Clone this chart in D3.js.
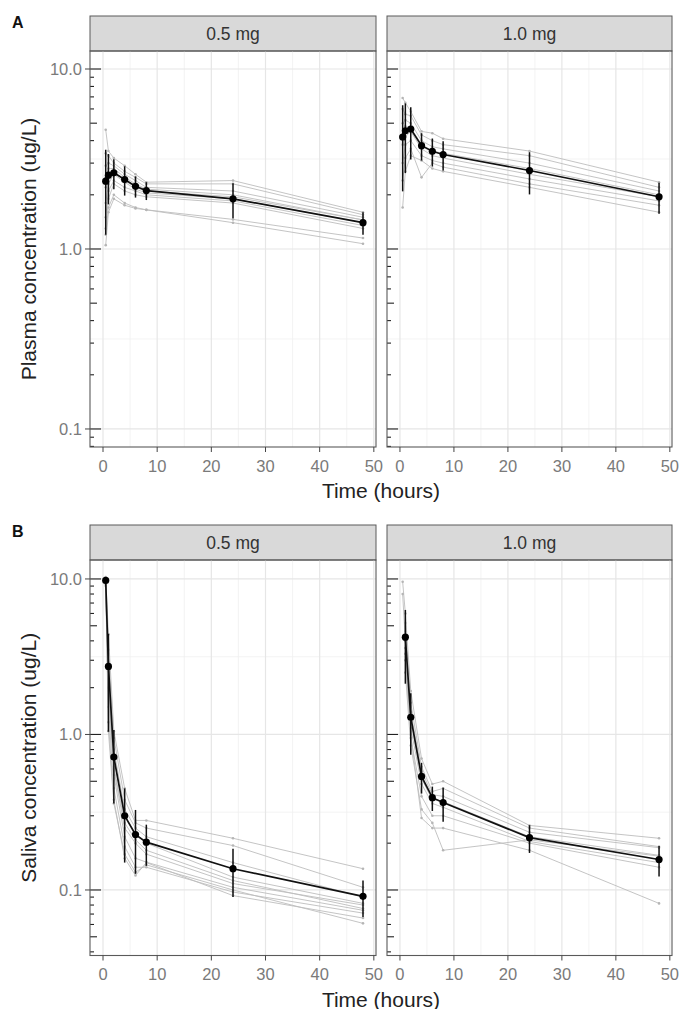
<!DOCTYPE html>
<html>
<head>
<meta charset="utf-8">
<script src="https://cdn.jsdelivr.net/npm/d3@7"></script>
<style>
body { margin: 0; background: #fff; }
svg { display: block; font-family: "Liberation Sans", Arial, sans-serif; }
</style>
</head>
<body>
<svg id="chart" width="681" height="1009"></svg>
<script>
var TIMES = [0.5, 1, 2, 4, 6, 8, 24, 48]
var DOSES = ["0.5 mg", "1.0 mg"]
var X_TICKS = [0, 10, 20, 30, 40, 50]
var X_MINOR = [5, 15, 25, 35, 45]
var Y_TICKS = [0.1, 1, 10]
var Y_TICK_LABELS = ["0.1", "1.0", "10.0"]
var X_LIMITS = [-2.4, 50.4]
var PLASMA_LIMITS = [0.0794, 12.59]
var SALIVA_LIMITS = [0.0379, 13.24]

// plasma, 0.5 mg
var plasma05_mean = [2.38, 2.57, 2.65, 2.43, 2.23, 2.11, 1.90, 1.40]
var plasma05_sd = [1.18, 0.8, 0.5, 0.45, 0.3, 0.24, 0.42, 0.2]
var plasma05_subjects = [
  [4.6, 3.5, 3.2, 2.9, 2.6, 2.35, 2.4, 1.6],
  [3.4, 3.3, 3.0, 2.7, 2.5, 2.3, 2.3, 1.55],
  [2.9, 3.0, 2.9, 2.6, 2.4, 2.2, 2.1, 1.5],
  [2.5, 2.8, 2.8, 2.5, 2.3, 2.15, 2.0, 1.45],
  [2.2, 2.5, 2.7, 2.4, 2.2, 2.1, 1.95, 1.45],
  [1.8, 2.3, 2.6, 2.35, 2.15, 2.05, 1.9, 1.4],
  [1.5, 2.1, 2.4, 2.2, 2.1, 2.0, 1.85, 1.35],
  [1.3, 1.9, 2.3, 2.1, 2.0, 1.95, 1.8, 1.3],
  [1.2, 1.7, 2.0, 1.8, 1.7, 1.65, 1.46, 1.15],
  [1.05, 1.6, 1.9, 1.75, 1.68, 1.65, 1.40, 1.07]
]

// plasma, 1.0 mg
var plasma10_mean = [4.19, 4.54, 4.64, 3.75, 3.49, 3.35, 2.73, 1.95]
var plasma10_sd = [2.1, 1.9, 1.5, 0.65, 0.62, 0.62, 0.72, 0.38]
var plasma10_subjects = [
  [6.9, 6.5, 5.8, 4.5, 4.4, 4.1, 3.5, 2.35],
  [6.0, 5.6, 5.5, 4.3, 4.0, 3.8, 3.3, 2.2],
  [5.0, 5.2, 5.0, 4.0, 3.7, 3.6, 3.0, 2.1],
  [4.3, 4.8, 4.7, 3.8, 3.5, 3.4, 2.8, 2.0],
  [3.8, 4.2, 4.5, 3.6, 3.3, 3.2, 2.6, 1.95],
  [3.0, 3.8, 4.0, 3.3, 3.1, 3.0, 2.45, 1.85],
  [2.4, 3.2, 3.6, 2.5, 3.0, 2.85, 2.3, 1.75],
  [1.7, 2.7, 3.3, 3.1, 2.8, 2.7, 2.2, 1.6]
]

// saliva, 0.5 mg
var saliva05_mean = [9.78, 2.74, 0.715, 0.30, 0.227, 0.203, 0.137, 0.091]
var saliva05_sd = [0.3, 1.7, 0.355, 0.15, 0.1, 0.06, 0.047, 0.024]
var saliva05_subjects = [
  [10.3, 4.4, 1.05, 0.45, 0.28, 0.28, 0.215, 0.137],
  [9.6, 3.5, 0.95, 0.38, 0.27, 0.25, 0.193, 0.104],
  [9.2, 2.9, 0.80, 0.33, 0.25, 0.22, 0.150, 0.090],
  [10.0, 2.6, 0.70, 0.30, 0.23, 0.20, 0.121, 0.082],
  [9.0, 2.2, 0.62, 0.27, 0.21, 0.18, 0.115, 0.076],
  [9.9, 1.9, 0.55, 0.22, 0.16, 0.151, 0.104, 0.074],
  [9.5, 1.5, 0.45, 0.19, 0.14, 0.14, 0.097, 0.071],
  [9.8, 1.2, 0.38, 0.16, 0.124, 0.15, 0.092, 0.066],
  [9.4, 1.05, 0.36, 0.17, 0.13, 0.145, 0.100, 0.061],
  [9.7, 2.0, 0.60, 0.25, 0.20, 0.17, 0.110, 0.080]
]

// saliva, 1.0 mg (no mean at 0.5 h)
var saliva10_mean = [null, 4.22, 1.29, 0.537, 0.392, 0.365, 0.217, 0.157]
var saliva10_sd = [null, 2.1, 0.55, 0.12, 0.07, 0.09, 0.044, 0.035]
var saliva10_subjects = [
  [9.6, 6.0, 1.9, 0.70, 0.48, 0.50, 0.26, 0.215],
  [null, 5.2, 1.6, 0.62, 0.43, 0.45, 0.25, 0.19],
  [null, 4.6, 1.4, 0.58, 0.41, 0.40, 0.235, 0.187],
  [8.0, 4.0, 1.25, 0.52, 0.38, 0.37, 0.22, 0.167],
  [null, 3.6, 1.1, 0.48, 0.36, 0.34, 0.205, 0.15],
  [null, 3.0, 0.95, 0.40, 0.30, 0.30, 0.20, 0.14],
  [null, 2.5, 0.85, 0.33, 0.27, 0.18, 0.21, 0.165],
  [null, 3.3, 1.0, 0.29, 0.25, 0.25, 0.18, 0.082]
]

var svg = d3.select("#chart")
svg.append("rect").attr("width", 681).attr("height", 1009).attr("fill", "#fff")

var PANEL_X = [[90, 376], [387, 672]]
var BORDER = "#5a5a5a"
var TICK_TEXT = "#7a7a7a"

var rows = [
  { tag: "A", stripTop: 16, top: 51, bottom: 447, limits: PLASMA_LIMITS,
    title: "Plasma concentration (ug/L)",
    sets: [[plasma05_mean, plasma05_sd, plasma05_subjects], [plasma10_mean, plasma10_sd, plasma10_subjects]] },
  { tag: "B", stripTop: 525, top: 560, bottom: 955.5, limits: SALIVA_LIMITS,
    title: "Saliva concentration (ug/L)",
    sets: [[saliva05_mean, saliva05_sd, saliva05_subjects], [saliva10_mean, saliva10_sd, saliva10_subjects]] }
]

function pairs(vals) {
  return TIMES.map(function(t, i) { return [t, vals[i]] }).filter(function(d) { return d[1] != null })
}

function drawPanel(row, p) {
  var x0 = PANEL_X[p][0], x1 = PANEL_X[p][1]
  var x = d3.scaleLinear().domain(X_LIMITS).range([x0, x1])
  var y = d3.scaleLog().domain(row.limits).range([row.bottom, row.top])
  var g = svg.append("g")
  var mean = row.sets[p][0], sd = row.sets[p][1], subjects = row.sets[p][2]

  // strip
  g.append("rect")
    .attr("x", x0).attr("y", row.stripTop)
    .attr("width", x1 - x0).attr("height", row.top - row.stripTop)
    .attr("fill", "#d9d9d9").attr("stroke", BORDER).attr("stroke-width", 1)
  g.append("text")
    .attr("x", (x0 + x1) / 2).attr("y", (row.stripTop + row.top) / 2)
    .attr("dy", "0.36em").attr("text-anchor", "middle")
    .attr("font-size", 17.5).attr("fill", "#333")
    .text(DOSES[p])

  // grid
  var minorY = [Math.pow(10, -1.5), Math.pow(10, -0.5), Math.pow(10, 0.5)].filter(function(v) {
    return v > row.limits[0] && v < row.limits[1]
  })
  g.selectAll(".gy2").data(minorY).enter().append("line")
    .attr("x1", x0).attr("x2", x1).attr("y1", y).attr("y2", y)
    .attr("stroke", "#f0f0f0").attr("stroke-width", 0.8)
  g.selectAll(".gx2").data(X_MINOR).enter().append("line")
    .attr("x1", x).attr("x2", x).attr("y1", row.top).attr("y2", row.bottom)
    .attr("stroke", "#f0f0f0").attr("stroke-width", 0.8)
  g.selectAll(".gy").data(Y_TICKS).enter().append("line")
    .attr("x1", x0).attr("x2", x1).attr("y1", y).attr("y2", y)
    .attr("stroke", "#e6e6e6").attr("stroke-width", 1.2)
  g.selectAll(".gx").data(X_TICKS).enter().append("line")
    .attr("x1", x).attr("x2", x).attr("y1", row.top).attr("y2", row.bottom)
    .attr("stroke", "#e6e6e6").attr("stroke-width", 1.2)

  // individual profiles
  var line = d3.line().x(function(d) { return x(d[0]) }).y(function(d) { return y(d[1]) })
  subjects.forEach(function(s) {
    var pts = pairs(s)
    g.append("path").attr("d", line(pts))
      .attr("fill", "none").attr("stroke", "#bdbdbd").attr("stroke-width", 0.9)
    g.selectAll(null).data(pts).enter().append("circle")
      .attr("cx", function(d) { return x(d[0]) }).attr("cy", function(d) { return y(d[1]) })
      .attr("r", 1.3).attr("fill", "#b5b5b5")
  })

  // mean +/- sd
  var mpts = pairs(mean)
  var spts = pairs(sd)
  g.selectAll(null).data(mpts).enter().append("line")
    .attr("x1", function(d) { return x(d[0]) }).attr("x2", function(d) { return x(d[0]) })
    .attr("y1", function(d, i) { return y(Math.max(d[1] - spts[i][1], row.limits[0])) })
    .attr("y2", function(d, i) { return y(d[1] + spts[i][1]) })
    .attr("stroke", "#111").attr("stroke-width", 1.5)
  g.append("path").attr("d", line(mpts))
    .attr("fill", "none").attr("stroke", "#111").attr("stroke-width", 1.7)
  g.selectAll(null).data(mpts).enter().append("circle")
    .attr("cx", function(d) { return x(d[0]) }).attr("cy", function(d) { return y(d[1]) })
    .attr("r", 3.6).attr("fill", "#000")

  // log ticks on the left side, inside the panel
  var logticks = []
  for (var e = -2; e <= 1; e++) {
    for (var k = 1; k <= 9; k++) {
      var v = k * Math.pow(10, e)
      if (v >= row.limits[0] && v <= row.limits[1]) logticks.push([v, k == 1 ? 11 : (k == 5 ? 7 : 4)])
    }
  }
  g.selectAll(null).data(logticks).enter().append("line")
    .attr("x1", x0).attr("x2", function(d) { return x0 + d[1] })
    .attr("y1", function(d) { return y(d[0]) }).attr("y2", function(d) { return y(d[0]) })
    .attr("stroke", "#222").attr("stroke-width", 1.1)

  // border
  g.append("rect")
    .attr("x", x0).attr("y", row.top)
    .attr("width", x1 - x0).attr("height", row.bottom - row.top)
    .attr("fill", "none").attr("stroke", BORDER).attr("stroke-width", 1.1)

  // x axis
  g.selectAll(null).data(X_TICKS).enter().append("line")
    .attr("x1", x).attr("x2", x).attr("y1", row.bottom).attr("y2", row.bottom + 5)
    .attr("stroke", "#444").attr("stroke-width", 1)
  g.selectAll(null).data(X_TICKS).enter().append("text")
    .attr("x", x).attr("y", row.bottom + 19).attr("dy", "0.36em")
    .attr("text-anchor", "middle").attr("font-size", 16.5).attr("fill", TICK_TEXT)
    .text(function(d) { return d })

  // y axis on the first panel only
  if (p == 0) {
    g.selectAll(null).data(Y_TICKS).enter().append("line")
      .attr("x1", x0 - 5).attr("x2", x0).attr("y1", y).attr("y2", y)
      .attr("stroke", "#444").attr("stroke-width", 1)
    g.selectAll(null).data(Y_TICKS).enter().append("text")
      .attr("x", x0 - 8).attr("y", y).attr("dy", "0.36em")
      .attr("text-anchor", "end").attr("font-size", 16.5).attr("fill", TICK_TEXT)
      .text(function(d, i) { return Y_TICK_LABELS[i] })
  }
}

rows.forEach(function(row) {
  drawPanel(row, 0)
  drawPanel(row, 1)

  svg.append("text")
    .attr("x", 12).attr("y", row.stripTop + 12)
    .attr("font-size", 16).attr("font-weight", "bold").attr("fill", "#111")
    .text(row.tag)

  var cy = (row.top + row.bottom) / 2
  svg.append("text")
    .attr("transform", "translate(36," + cy + ") rotate(-90)")
    .attr("text-anchor", "middle").attr("font-size", 21).attr("fill", "#222")
    .text(row.title)

  svg.append("text")
    .attr("x", (PANEL_X[0][0] + PANEL_X[1][1]) / 2).attr("y", row.bottom + 51)
    .attr("text-anchor", "middle").attr("font-size", 21).attr("fill", "#222")
    .text("Time (hours)")
})
</script>
</body>
</html>
